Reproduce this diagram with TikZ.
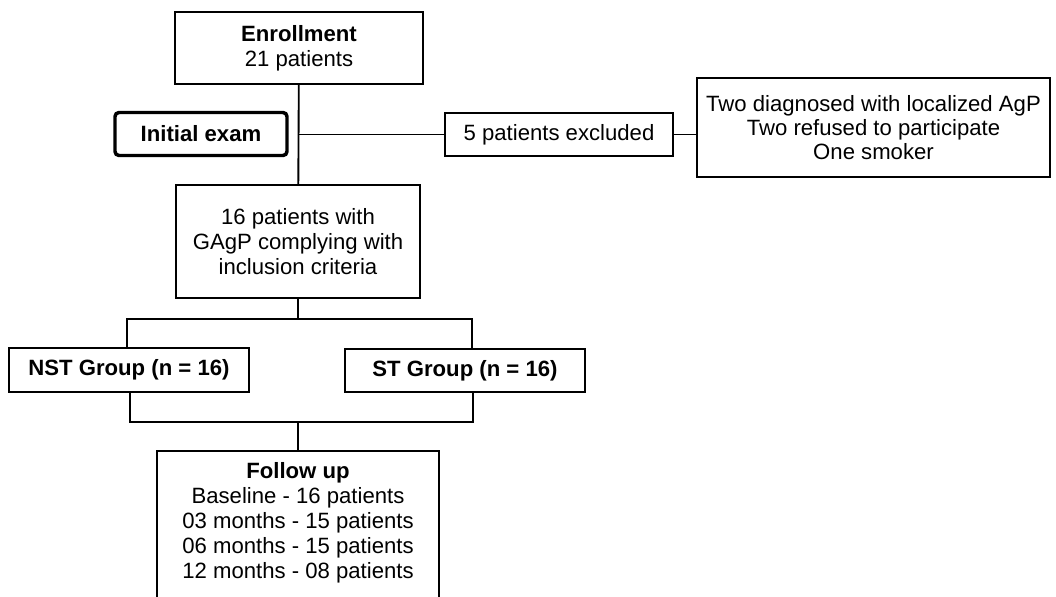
\documentclass[tikz,border=0pt]{standalone}
\usepackage{fontspec}
\setmainfont{Liberation Sans}
\tikzset{
  box/.style={draw, line width=1.4pt, align=center, inner sep=0pt,
    font=\fontsize{16.6}{18.7}\selectfont},
  thickbox/.style={box, line width=2.6pt, rounded corners=3pt},
  link/.style={line width=1.4pt},
}
\begin{document}
\begin{tikzpicture}[x=0.75pt, y=-0.75pt]
  \def\F{0.75pt} % pixel size
  \useasboundingbox (0,0) rectangle (1056,596);

  \node[box, minimum width=248*\F, minimum height=72*\F] (enroll) at (299,48)
    {\textbf{Enrollment}\\21 patients};
  \node[thickbox, minimum width=172*\F, minimum height=43*\F] (initial) at (201,134)
    {\textbf{Initial exam}};
  \node[box, minimum width=228*\F, minimum height=43*\F] (excl) at (559,134.5)
    {5 patients excluded};
  \node[box, minimum width=353*\F, minimum height=99*\F,
    font=\fontsize{16.6}{17.8}\selectfont] (reasons) at (873.5,127.5)
    {Two diagnosed with localized AgP\\Two refused to participate\\One smoker};
  \node[box, minimum width=244*\F, minimum height=113*\F] (incl) at (298,241.5)
    {16 patients with\\GAgP complying with\\inclusion criteria};
  \node[box, minimum width=240*\F, minimum height=44*\F] (nst) at (129,370)
    {\textbf{NST Group (n = 16)}};
  \node[box, minimum width=240*\F, minimum height=43*\F] (st) at (465,370.5)
    {\textbf{ST Group (n = 16)}};
  \node[box, anchor=north, minimum width=282*\F, inner ysep=8.5pt, text depth=60pt] (follow) at (298,450)
    {\textbf{Follow up}\\Baseline - 16 patients\\03 months - 15 patients\\06 months - 15 patients\\12 months - 08 patients};

  \coordinate (split) at (enroll.south |- excl.west);
  \coordinate (topfork) at (incl.south |- 0,319);
  \coordinate (botfork) at (incl.south |- 0,422);

  \draw[link] (enroll) -- (incl);
  \draw[link] (split) -- (excl);
  \draw[link] (excl.east) -- (excl.east -| reasons.west);
  \draw[link] (incl) -- (topfork);
  \draw[link] ([xshift=-2*\F]nst.north) |- (topfork) -| ([xshift=7*\F]st.north);
  \draw[link] ([xshift=1*\F]nst.south) |- (botfork) -| ([xshift=8*\F]st.south);
  \draw[link] (botfork) -- (follow.north);
\end{tikzpicture}
\end{document}
